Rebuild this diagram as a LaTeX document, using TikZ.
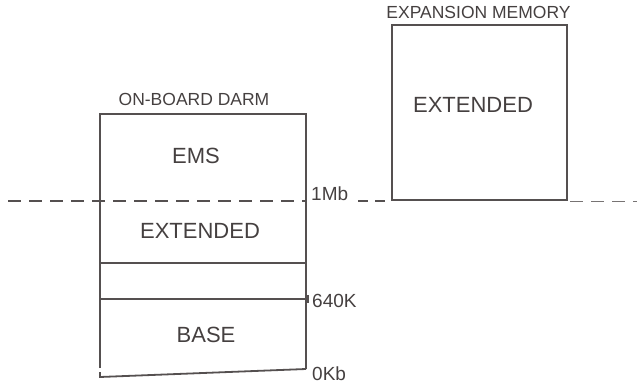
\documentclass[tikz,border=0pt]{standalone}
\usepackage{fontspec}
\setmainfont{Liberation Sans}
\definecolor{ink}{HTML}{555050}
\definecolor{txt}{HTML}{454040}
\begin{document}
\begin{tikzpicture}[x=1pt,y=-1pt,
  boxline/.style={draw=ink,line width=1.8pt},
  thinline/.style={draw=ink,line width=1.1pt},
  dashline/.style={draw=ink,line width=1.2pt,dash pattern=on 13pt off 8pt},
  big/.style={text=txt,inner sep=0pt,anchor=base,font=\fontsize{22}{24}\selectfont},
  small/.style={text=txt,inner sep=0pt,anchor=base,font=\fontsize{17.5}{20}\selectfont},
  levellabel/.style={text=txt,inner sep=0pt,anchor=base west,font=\fontsize{19}{21}\selectfont}]
\useasboundingbox (0,0) rectangle (637,385);
% on-board box
\coordinate (tl) at (100,114);
\coordinate (tr) at (306,114);
\coordinate (bl) at (100,368);
\coordinate (br) at (306,369);
\draw[boxline] (bl) -- (tl) -- (tr) -- (br);
\draw[boxline] (100,372) -- (100,377) -- (br);
\draw[thinline] (100,263) -- (306,263);
\draw[thinline] (100,295) -- (100,303);
\draw[thinline] (100,299) -- (306,299);
\draw[thinline] (308,295) -- (308,303);
% expansion box
\draw[boxline] (392,200) -- (392,25) -- (567,25) -- (567,200) -- cycle;
% 1Mb dashed line
\draw[dashline] (8,201) -- (306,201);
\draw[dashline,dash pattern=on 10pt off 7pt] (358,201) -- (392,201);
\draw[dashline,line width=0.9pt,draw=ink!80] (570,201) -- (637,201);
% labels
\node[small] (lab1) at (194,106) {ON-BOARD DARM};
\node[small] (lab2) at (478.5,19) {EXPANSION MEMORY};
\node[big] (ems) at (196,163) {EMS};
\node[big] (ext1) at (200,238) {EXTENDED};
\node[big] (ext2) at (473,113) {EXTENDED};
\node[big] (base) at (206,342) {BASE};
\node[levellabel] (mb) at (311,200) {1Mb};
\node[levellabel] (k640) at (312,307) {640K};
\node[levellabel] (kb0) at (312,380) {0Kb};
\end{tikzpicture}
\end{document}
